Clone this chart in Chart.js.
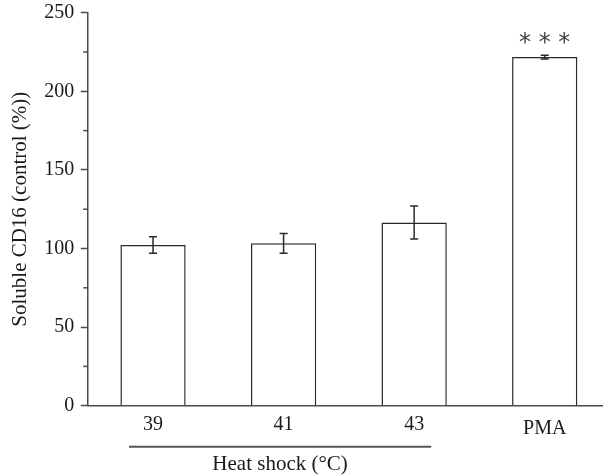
<!DOCTYPE html>
<html>
<head>
<meta charset="utf-8">
<script src="https://cdn.jsdelivr.net/npm/chart.js@4"></script>
<style>
  html, body { margin: 0; padding: 0; background: #fff; overflow: hidden; }
  #wrap { width: 610px; height: 475px; }
</style>
</head>
<body>
<div id="wrap"><canvas id="myBar" width="610" height="475"></canvas></div>
<script>
const categories = ["39", "41", "43", "PMA"];
const means = [102.2, 103.3, 116.5, 221.8];
const errors = [5.2, 6.3, 10.5, 1.2];
const yMin = 0;
const yMax = 250;
const yStep = 50;
const minorTicks = [25, 75, 125, 175, 225];
const yTitle = "Soluble CD16 (control (%))";
const groupLabel = "Heat shock (°C)";
const groupFirst = 0;
const groupLast = 2;
const starText = "* * *";
const starIndex = 3;

const serif = "'Liberation Serif', 'Times New Roman', serif";
const textColor = "#1a1a1a";
const axisColor = "#4a4a4a";
const barColor = "#2a2a2a";

const extras = {
  id: "extras",
  afterDatasetsDraw(chart) {
    const ctx = chart.ctx;
    const x = chart.scales.x;
    const y = chart.scales.y;
    const bars = chart.getDatasetMeta(0).data;

    ctx.save();
    // error bars
    ctx.strokeStyle = barColor;
    ctx.lineWidth = 1.5;
    bars.forEach((bar, i) => {
      const top = y.getPixelForValue(means[i] + errors[i]);
      const bot = y.getPixelForValue(means[i] - errors[i]);
      ctx.beginPath();
      ctx.moveTo(bar.x, top);
      ctx.lineTo(bar.x, bot);
      ctx.moveTo(bar.x - 4, top);
      ctx.lineTo(bar.x + 4, top);
      ctx.moveTo(bar.x - 4, bot);
      ctx.lineTo(bar.x + 4, bot);
      ctx.stroke();
    });

    // minor ticks on the y axis
    ctx.strokeStyle = axisColor;
    minorTicks.forEach((v) => {
      const py = y.getPixelForValue(v);
      ctx.beginPath();
      ctx.moveTo(y.right - 4.5, py);
      ctx.lineTo(y.right, py);
      ctx.stroke();
    });

    // significance stars
    const sb = bars[starIndex];
    ctx.fillStyle = "#444";
    ctx.font = "24px 'DejaVu Sans'";
    ctx.textAlign = "center";
    ctx.textBaseline = "alphabetic";
    ctx.fillText(starText, sb.x, y.getPixelForValue(means[starIndex] + errors[starIndex]) - 5);

    // group line + label under the heat shock bars
    const gx0 = x.getPixelForValue(groupFirst) - 24;
    const gx1 = x.getPixelForValue(groupLast) + 17;
    ctx.strokeStyle = "#555";
    ctx.lineWidth = 2;
    ctx.beginPath();
    ctx.moveTo(gx0, 446.7);
    ctx.lineTo(gx1, 446.7);
    ctx.stroke();
    ctx.fillStyle = textColor;
    ctx.font = "21px " + serif;
    ctx.fillText(groupLabel, (gx0 + gx1) / 2, 469.5);
    ctx.restore();
  }
};

new Chart(document.getElementById("myBar"), {
  type: "bar",
  data: {
    labels: categories,
    datasets: [
      {
        data: means,
        backgroundColor: "#ffffff",
        borderColor: barColor,
        borderWidth: 1.5,
        barPercentage: 0.5,
        categoryPercentage: 1.0,
      },
    ],
  },
  options: {
    responsive: false,
    animation: false,
    layout: { padding: { top: 12.7, left: 0, right: 0, bottom: 0 } },
    plugins: { legend: { display: false }, tooltip: { enabled: false } },
    scales: {
      x: {
        grid: { display: false },
        border: { color: axisColor, width: 1.5 },
        ticks: {
          padding: -1,
          color: textColor,
          callback: (v, i) => (i === starIndex ? ["", categories[i]] : categories[i]),
          font: (c) => ({ family: serif, size: 20, lineHeight: c.index === 3 ? 0.55 : 1.2 }),
        },
        afterFit: (s) => { s.height = 69.3; s.paddingLeft = 0; s.paddingRight = 0; },
      },
      y: {
        min: yMin,
        max: yMax,
        ticks: { stepSize: yStep, color: textColor, padding: 6.5, font: { family: serif, size: 20 } },
        grid: { drawOnChartArea: false, tickLength: 7, tickColor: axisColor, tickWidth: 1.5 },
        border: { color: axisColor, width: 1.5 },
        title: {
          display: true,
          text: yTitle,
          color: textColor,
          font: { family: serif, size: 21 },
          padding: { top: 8, bottom: 0 },
        },
        afterFit: (s) => { s.width = 87.75; s.paddingTop = 0; s.paddingBottom = 0; },
      },
    },
  },
  plugins: [extras],
});
</script>
</body>
</html>
